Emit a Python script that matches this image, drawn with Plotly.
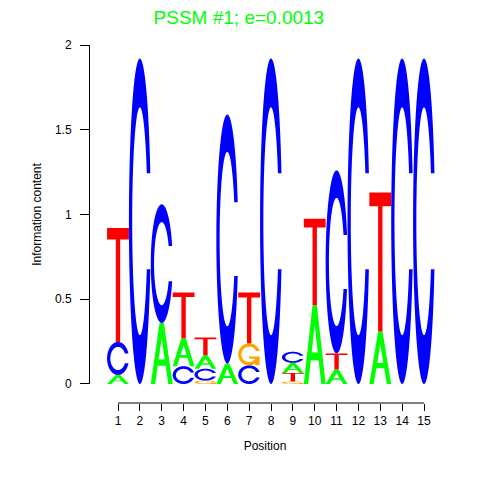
import numpy as np
import plotly.graph_objects as go

# information content (bits) of each base at each position
positions = list(range(1, 16))
bits_A = [0.053, 0, 0.36, 0.165, 0.08, 0.12, 0, 0, 0.06, 0.465, 0.085, 0, 0.31, 0, 0]
bits_C = [0.195, 1.92, 0.70, 0.105, 0.07, 1.47, 0.11, 1.92, 0.065, 0, 1.08, 1.92, 0, 1.92, 1.92]
bits_G = [0, 0, 0, 0, 0.02, 0, 0.13, 0, 0.015, 0, 0, 0, 0, 0, 0]
bits_T = [0.672, 0, 0, 0.27, 0.105, 0, 0.30, 0, 0.05, 0.51, 0.095, 0, 0.82, 0, 0]

title = "PSSM #1; e=0.0013"
y_ticks = [0, 0.5, 1, 1.5, 2]

COLORS = {"A": "#00FF00", "C": "#0000FF", "G": "#FFA500", "T": "#FF0000"}
FONT = "Liberation Sans, Arial, sans-serif"


def _ring():
    a1 = np.linspace(0.3 + np.pi / 2, np.pi, 100)
    a2 = np.linspace(np.pi, 1.5 * np.pi, 100)
    xl = np.concatenate([0.5 + 0.5 * np.sin(a1), 0.5 + 0.5 * np.sin(a2)])
    yl = np.concatenate([0.5 + 0.5 * np.cos(a1), 0.5 + 0.5 * np.cos(a2)])
    x = np.concatenate([xl, xl[::-1]])
    y = np.concatenate([yl, 1 - yl[::-1]])
    ymax = (0.5 + 0.5 * np.cos(a1)).max()
    xi1 = 0.5 + 0.35 * np.sin(a1)
    yi1 = 0.5 + 0.35 * np.cos(a1)
    keep = yi1 <= ymax
    xi1, yi1 = xi1[keep], yi1[keep]
    yi1[0] = ymax
    xi = np.concatenate([xi1, 0.5 + 0.35 * np.sin(a2)])
    yi = np.concatenate([yi1, 0.5 + 0.35 * np.cos(a2)])
    x1 = np.concatenate([xi, xi[::-1]])
    y1 = np.concatenate([yi, 1 - yi[::-1]])
    x = np.concatenate([x, x1[::-1]])
    y = np.concatenate([y, y1[::-1]])
    return list(zip(x, y))


def glyph(letter):
    """list of paths, each path a list of sub-polygons (unit box)"""
    if letter == "A":
        outer = [(0, 0), (.4, 1), (.6, 1), (1, 0), (.8, 0), (.68, .3), (.32, .3), (.2, 0)]
        hole = [(.36, .4), (.5, .75), (.64, .4)]
        return [[outer, hole]]
    if letter == "T":
        return [[[(0, 1), (1, 1), (1, .9), (.6, .9), (.6, 0), (.4, 0), (.4, .9), (0, .9)]]]
    if letter == "C":
        return [[_ring()]]
    r1 = 0.5 + 0.5 * np.cos(0.3)
    bar = [(r1, .4), (.5, .4), (.5, .3), (r1 - .2, .3), (r1 - .2, 0), (r1, 0)]
    return [[_ring()], [bar]]


def letter_shapes(letter, x0, y0, h):
    shapes = []
    for path in glyph(letter):
        d = ""
        for poly in path:
            pts = ["%.4f,%.5f" % (x0 + u, y0 + v * h) for u, v in poly]
            d += "M" + "L".join(pts) + "Z"
        shapes.append(dict(type="path", path=d, xref="x", yref="y",
                           fillcolor=COLORS[letter], line=dict(width=0),
                           layer="above"))
    return shapes


fig = go.Figure()
shapes = []
table = {"A": bits_A, "C": bits_C, "G": bits_G, "T": bits_T}
for i, pos in enumerate(positions):
    # smallest letter at the bottom of each stack
    stack = sorted(((table[b][i], b) for b in "ACGT" if table[b][i] > 0))
    base = 0.0
    for h, b in stack:
        shapes += letter_shapes(b, pos - 0.5, base, h)
        base += h

# x axis line only spans the first to last position
shapes.append(dict(type="line", xref="x", yref="paper",
                   x0=positions[0], x1=positions[-1], y0=0, y1=0,
                   line=dict(color="black", width=1)))

# invisible trace so the axes exist
fig.add_trace(go.Scatter(x=positions, y=[0] * len(positions), mode="markers",
                         marker=dict(opacity=0), hoverinfo="skip", showlegend=False))

fig.update_layout(
    width=480, height=480,
    paper_bgcolor="white", plot_bgcolor="white",
    font=dict(family=FONT, size=12, color="black"),
    margin=dict(l=82, r=48, t=37, b=85),
    title=dict(text=title, x=0.481, xref="container", xanchor="center",
               y=0.994, yanchor="top", pad=dict(t=0, b=0),
               font=dict(size=19, color="#00FF00", family=FONT)),
    shapes=shapes,
    showlegend=False,
)
fig.update_xaxes(
    range=[-0.281, 15.732], anchor="free", position=0,
    tickvals=positions, ticktext=[str(p) for p in positions],
    ticks="outside", ticklen=7, tickcolor="black",
    showline=False, showgrid=False, zeroline=False,
    title=dict(text="Position", standoff=14, font=dict(size=12)),
    tickfont=dict(size=12),
)
fig.update_yaxes(
    domain=[0.0531, 1], range=[0, 2],
    tickvals=y_ticks, ticktext=["0", "0.5", "1", "1.5", "2"],
    ticks="outside", ticklen=9, tickcolor="black", ticklabelstandoff=6,
    showline=True, linecolor="black", linewidth=1,
    showgrid=False, zeroline=False,
    title=dict(text="Information content", standoff=10, font=dict(size=12)),
    tickfont=dict(size=12),
)

fig.write_html("out.html")
